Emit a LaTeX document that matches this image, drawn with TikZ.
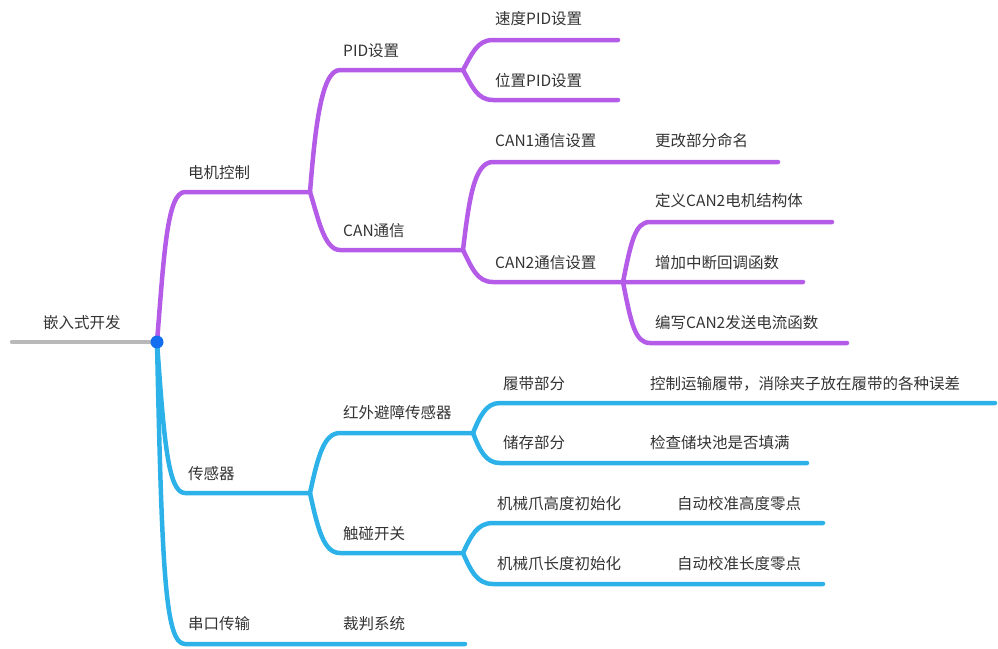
\documentclass[tikz,border=0pt]{standalone}
\usepackage{fontspec}
\setmainfont{Noto Sans CJK SC}
\definecolor{mpurple}{RGB}{180,92,232}
\definecolor{mblue}{RGB}{44,178,232}
\definecolor{mdot}{RGB}{20,110,240}
\definecolor{mgray}{RGB}{185,185,185}
\definecolor{mtext}{RGB}{51,51,51}
\tikzset{
  pbr/.style={draw=mpurple, line width=4.5pt, line cap=round, line join=round},
  bbr/.style={draw=mblue, line width=4.5pt, line cap=round, line join=round},
  gbr/.style={draw=mgray, line width=4.5pt, line cap=round},
  lbl/.style={anchor=base west, inner sep=0pt, text=mtext, font=\fontsize{15.5}{18}\selectfont},
}
\begin{document}
\begin{tikzpicture}[x=1pt,y=-1pt]
\useasboundingbox (0,0) rectangle (998,648);
% coordinates
\coordinate (rootL) at (12,342);
\coordinate (root) at (157,342);
\coordinate (m0) at (185,192); \coordinate (m1) at (310,192);
\coordinate (p0) at (340,70);  \coordinate (p1) at (463,70);
\coordinate (c0) at (340,250); \coordinate (c1) at (463,250);
\coordinate (s0) at (493,40);  \coordinate (s1) at (618,40);
\coordinate (w0) at (493,100); \coordinate (w1) at (618,100);
\coordinate (a0) at (493,162); \coordinate (a1) at (778,162);
\coordinate (b0) at (493,282); \coordinate (b1) at (623,282);
\coordinate (d0) at (650,222); \coordinate (d1) at (832,222);
\coordinate (e1) at (803,282);
\coordinate (f0) at (650,343); \coordinate (f1) at (847,343);
\coordinate (t0) at (185,493); \coordinate (t1) at (310,493);
\coordinate (h0) at (340,433); \coordinate (h1) at (473,433);
\coordinate (k0) at (340,553); \coordinate (k1) at (463,553);
\coordinate (l0) at (500,403); \coordinate (l1) at (995,403);
\coordinate (r0) at (500,463); \coordinate (r1) at (807,463);
\coordinate (g0) at (493,523); \coordinate (g1) at (823,523);
\coordinate (n0) at (493,584); \coordinate (n1) at (823,584);
\coordinate (u0) at (185,644); \coordinate (u1) at (465,644);

% root line
\draw[gbr] (rootL) -- (root);

% purple branches
\draw[pbr] (root) .. controls (164,255) and (167,192) .. (m0) -- (m1);
\draw[pbr] (m1) .. controls (315,130) and (321,70) .. (p0) -- (p1);
\draw[pbr] (m1) .. controls (318,217) and (324,250) .. (c0) -- (c1);
\draw[pbr] (p1) .. controls (472,54) and (477,40) .. (s0) -- (s1);
\draw[pbr] (p1) .. controls (472,86) and (477,100) .. (w0) -- (w1);
\draw[pbr] (c1) .. controls (469,200) and (474,162) .. (a0) -- (a1);
\draw[pbr] (c1) .. controls (472,268) and (477,282) .. (b0) -- (b1) -- (e1);
\draw[pbr] (b1) .. controls (631,242) and (635,222) .. (d0) -- (d1);
\draw[pbr] (b1) .. controls (631,323) and (635,343) .. (f0) -- (f1);

% blue branches
\draw[bbr] (root) .. controls (164,440) and (168,493) .. (t0) -- (t1);
\draw[bbr] (root) .. controls (162,570) and (165,644) .. (u0) -- (u1);
\draw[bbr] (t1) .. controls (318,456) and (324,433) .. (h0) -- (h1);
\draw[bbr] (t1) .. controls (318,530) and (324,553) .. (k0) -- (k1);
\draw[bbr] (h1) .. controls (480,416) and (486,403) .. (l0) -- (l1);
\draw[bbr] (h1) .. controls (480,451) and (486,463) .. (r0) -- (r1);
\draw[bbr] (k1) .. controls (471,536) and (477,523) .. (g0) -- (g1);
\draw[bbr] (k1) .. controls (471,571) and (477,584) .. (n0) -- (n1);

% dot
\fill[mdot] (root) circle (6.5pt);

% labels
\node[lbl] (nroot) at (43,328) {嵌入式开发};
\node[lbl] (nmotor) at (188,178) {电机控制};
\node[lbl] (npid) at (343,56) {PID设置};
\node[lbl] (ncan) at (343,236) {CAN通信};
\node[lbl] (nspd) at (495,24) {速度PID设置};
\node[lbl] (npos) at (495,86) {位置PID设置};
\node[lbl] (ncan1) at (495,146) {CAN1通信设置};
\node[lbl] (nren) at (655,146) {更改部分命名};
\node[lbl] (ncan2) at (495,268) {CAN2通信设置};
\node[lbl] (ndef) at (655,206) {定义CAN2电机结构体};
\node[lbl] (nint) at (655,268) {增加中断回调函数};
\node[lbl] (nwri) at (655,328) {编写CAN2发送电流函数};
\node[lbl] (nsen) at (188,479) {传感器};
\node[lbl] (nir) at (343,418) {红外避障传感器};
\node[lbl] (ntou) at (343,539) {触碰开关};
\node[lbl] (nser) at (188,629) {串口传输};
\node[lbl] (nref) at (343,629) {裁判系统};
\node[lbl] (ntrk) at (503,389) {履带部分};
\node[lbl] (ntrkd) at (650,389) {控制运输履带，消除夹子放在履带的各种误差};
\node[lbl] (nsto) at (503,448) {储存部分};
\node[lbl] (nstod) at (650,448) {检查储块池是否填满};
\node[lbl] (nhgt) at (497,509) {机械爪高度初始化};
\node[lbl] (nhgtd) at (677,509) {自动校准高度零点};
\node[lbl] (nlen) at (497,569) {机械爪长度初始化};
\node[lbl] (nlend) at (677,569) {自动校准长度零点};
\end{tikzpicture}
\end{document}
